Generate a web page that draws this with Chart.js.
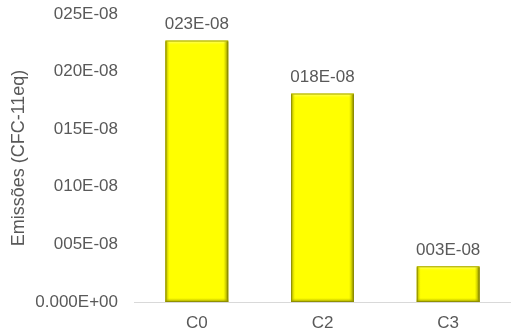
<!DOCTYPE html>
<html>
<head>
<meta charset="utf-8">
<script src="https://cdn.jsdelivr.net/npm/chart.js@4/dist/chart.umd.min.js"></script>
<style>
html,body{margin:0;padding:0;background:#fff;}
#wrap{width:511px;height:335px;position:relative;}
</style>
</head>
<body>
<div id="wrap"><canvas id="c" width="511" height="335"></canvas></div>
<script>
const categories = ["C0", "C2", "C3"];
const emissions = [22.7e-8, 18.1e-8, 3.1e-8];
const axisTitle = "Emissões (CFC-11eq)";
const yMax = 25e-8;
const yStep = 5e-8;

function fmt(v) {
  const n = Math.round(v / 1e-8);
  if (n === 0) return "0.000E+00";
  return String(n).padStart(3, "0") + "E-08";
}

const textColor = "#595959";
const fontFamily = "'Liberation Sans', Arial, sans-serif";

const valueLabels = {
  id: "valueLabels",
  afterDatasetsDraw(chart) {
    const ctx = chart.ctx;
    const meta = chart.getDatasetMeta(0);
    ctx.save();
    ctx.fillStyle = textColor;
    ctx.font = "17px " + fontFamily;
    ctx.textAlign = "center";
    ctx.textBaseline = "alphabetic";
    meta.data.forEach((bar, i) => {
      ctx.fillText(fmt(chart.data.datasets[0].data[i]), bar.x, bar.y - 11);
    });
    ctx.restore();
  }
};

const bevel = {
  id: "bevel",
  afterDatasetsDraw(chart) {
    const ctx = chart.ctx;
    const meta = chart.getDatasetMeta(0);
    ctx.save();
    meta.data.forEach((bar) => {
      const w = bar.width, l = bar.x - w / 2, r = bar.x + w / 2, t = bar.y, b = bar.base;
      let g = ctx.createLinearGradient(0, t, 0, t + 5);
      g.addColorStop(0, "rgba(255,255,170,0.9)");
      g.addColorStop(1, "rgba(255,255,0,0)");
      ctx.fillStyle = g;
      ctx.fillRect(l + 2, t + 1, w - 4, 5);
      g = ctx.createLinearGradient(l, 0, l + 4, 0);
      g.addColorStop(0, "rgba(150,150,0,0.9)");
      g.addColorStop(1, "rgba(200,200,0,0)");
      ctx.fillStyle = g;
      ctx.fillRect(l, t + 1, 4, b - t - 1);
      g = ctx.createLinearGradient(r, 0, r - 5, 0);
      g.addColorStop(0, "rgba(110,110,0,0.95)");
      g.addColorStop(1, "rgba(200,200,0,0)");
      ctx.fillStyle = g;
      ctx.fillRect(r - 5, t + 1, 5, b - t - 1);
      g = ctx.createLinearGradient(0, b, 0, b - 4);
      g.addColorStop(0, "rgba(130,130,0,0.9)");
      g.addColorStop(1, "rgba(200,200,0,0)");
      ctx.fillStyle = g;
      ctx.fillRect(l, b - 4, w, 4);
      ctx.strokeStyle = "rgba(140,140,0,0.8)";
      ctx.lineWidth = 1;
      ctx.strokeRect(l + 0.5, t + 0.5, w - 1, b - t - 1);
    });
    ctx.restore();
  }
};

new Chart(document.getElementById("c"), {
  type: "bar",
  data: {
    labels: categories,
    datasets: [{
      data: emissions,
      backgroundColor: "#ffff00",
      borderWidth: 0,
      barPercentage: 0.5,
      categoryPercentage: 1.0
    }]
  },
  options: {
    responsive: false,
    animation: false,
    devicePixelRatio: 1,
    layout: { padding: { top: 14, right: 0, bottom: 0, left: 0 } },
    plugins: { legend: { display: false }, tooltip: { enabled: false } },
    scales: {
      x: {
        grid: { display: false, drawTicks: false },
        border: { display: true, color: "#d9d9d9", width: 1 },
        ticks: { color: textColor, font: { family: fontFamily, size: 17 }, padding: 11 },
        afterFit(scale) { scale.height = 33; scale.paddingLeft = 0; scale.paddingRight = 0; }
      },
      y: {
        min: 0,
        max: yMax,
        grid: { display: false, drawTicks: false },
        border: { display: false },
        ticks: {
          stepSize: yStep,
          color: textColor,
          font: { family: fontFamily, size: 17 },
          padding: 16,
          callback: (v) => fmt(v)
        },
        title: {
          display: true,
          text: axisTitle,
          color: textColor,
          font: { family: fontFamily, size: 18 },
          padding: { top: 8, bottom: 0 }
        },
        afterFit(scale) { scale.width = 134; scale.paddingTop = 0; scale.paddingBottom = 0; }
      }
    }
  },
  plugins: [bevel, valueLabels]
});
</script>
</body>
</html>
